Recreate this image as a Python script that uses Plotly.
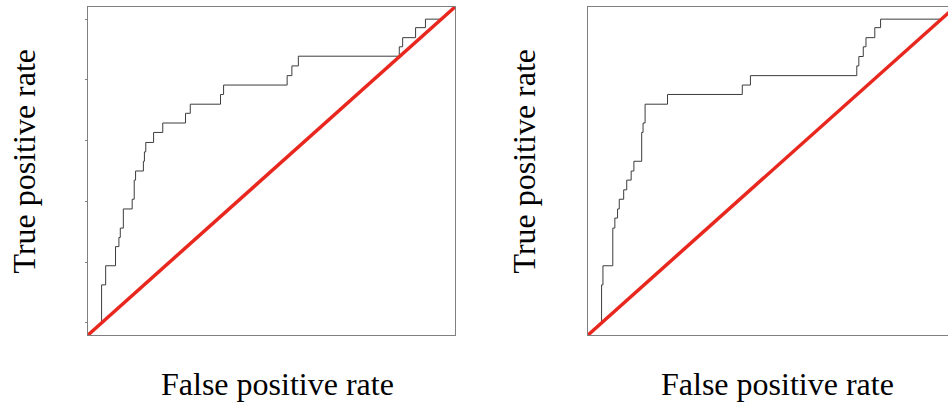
import plotly.graph_objects as go

W, H = 948, 402

# Left ROC curve (step vertices)
left_fpr = [0, 0, 0.012, 0.041, 0.051, 0.055, 0.064, 0.090, 0.096, 0.100, 0.123, 0.126,
            0.130, 0.153, 0.180, 0.247, 0.261, 0.350, 0.359, 0.546, 0.560, 0.579, 0.876,
            0.886, 0.924, 0.953, 1.0]
left_tpr = [0, 0.125, 0.188, 0.251, 0.281, 0.312, 0.375, 0.407, 0.47, 0.50, 0.532, 0.563,
            0.594, 0.627, 0.658, 0.69, 0.72, 0.752, 0.783, 0.814, 0.846, 0.878, 0.909,
            0.939, 0.972, 1.0, 1.0]

# Right ROC curve (step vertices)
right_fpr = [0, 0, 0.004, 0.033, 0.039, 0.047, 0.052, 0.065, 0.074, 0.087, 0.095, 0.118,
             0.122, 0.128, 0.194, 0.414, 0.438, 0.751, 0.757, 0.770, 0.778, 0.804, 0.821, 1.0]
right_tpr = [0, 0.125, 0.188, 0.312, 0.345, 0.375, 0.407, 0.438, 0.47, 0.50, 0.532, 0.627,
             0.658, 0.72, 0.752, 0.783, 0.814, 0.846, 0.877, 0.909, 0.939, 0.972, 1.0, 1.0]

diag = [-0.04, 1.04]
y_ticks = [0, 0.2, 0.4, 0.6, 0.8, 1.0]
x_title = "False positive rate"
y_title = "True positive rate"

RED = "#e8281f"
CURVE = "#3c3c3c"
FRAME = "#808080"
FONT = "Liberation Serif"
FSIZE = 32

fig = go.Figure()
fig.add_trace(go.Scatter(x=left_fpr, y=left_tpr, mode="lines", line=dict(shape="hv", color=CURVE, width=1),
                         xaxis="x", yaxis="y", showlegend=False))
fig.add_trace(go.Scatter(x=diag, y=diag, mode="lines", line=dict(color=RED, width=3.5),
                         xaxis="x", yaxis="y", showlegend=False))
fig.add_trace(go.Scatter(x=right_fpr, y=right_tpr, mode="lines", line=dict(shape="hv", color=CURVE, width=1),
                         xaxis="x2", yaxis="y2", showlegend=False))
fig.add_trace(go.Scatter(x=diag, y=diag, mode="lines", line=dict(color=RED, width=3.5),
                         xaxis="x2", yaxis="y2", showlegend=False))

ydom = [1 - 335 / H, 1 - 7 / H]
axcommon = dict(showgrid=False, zeroline=False, showline=True, linecolor=FRAME, linewidth=1,
                showticklabels=False, fixedrange=True)
x_right_max = -0.04 + 1.08 * (W - 588) / 367.0

fig.update_layout(
    width=W, height=H, margin=dict(l=0, r=0, t=0, b=0),
    paper_bgcolor="white", plot_bgcolor="white",
    xaxis=dict(domain=[88 / W, 455 / W], range=[-0.04, 1.04], mirror=True, ticks="", anchor="y", **axcommon),
    yaxis=dict(domain=ydom, range=[-0.04, 1.04], mirror=True, ticks="outside", ticklen=2,
               tickcolor=FRAME, tickvals=y_ticks, anchor="x", **axcommon),
    xaxis2=dict(domain=[588 / W, 1.0], range=[-0.04, x_right_max], mirror=True, ticks="", anchor="y2", **axcommon),
    yaxis2=dict(domain=ydom, range=[-0.04, 1.04], mirror=False, ticks="", anchor="x2", **axcommon),
)

annos = []
for cx in (277, 777):
    annos.append(dict(text=x_title, xref="paper", yref="paper", x=cx / W, y=1 - 384 / H,
                      xanchor="center", yanchor="middle", showarrow=False,
                      font=dict(family=FONT, size=FSIZE, color="black")))
for cx in (23, 523):
    annos.append(dict(text=y_title, xref="paper", yref="paper", x=cx / W, y=1 - 161.5 / H,
                      xanchor="center", yanchor="middle", textangle=-90, showarrow=False,
                      font=dict(family=FONT, size=FSIZE, color="black")))
fig.update_layout(annotations=annos)

fig.write_html("out.html")
